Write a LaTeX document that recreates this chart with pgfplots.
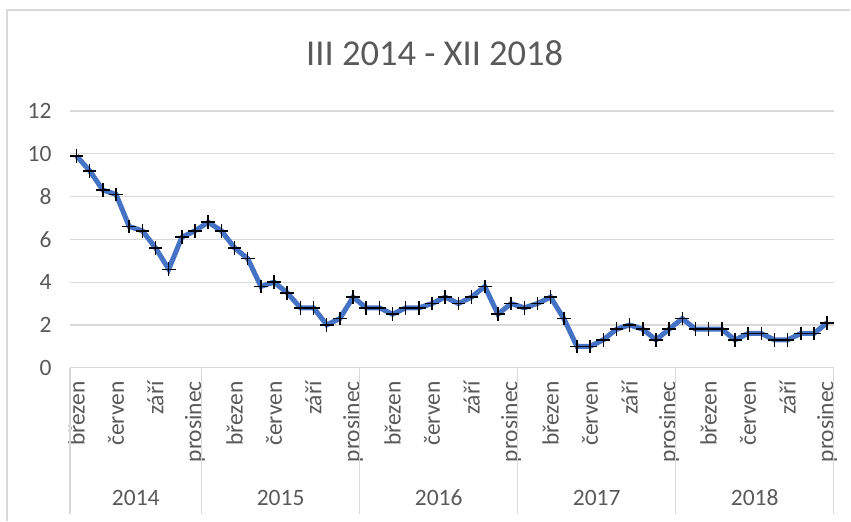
\documentclass[border=0pt]{standalone}
\usepackage{pgfplots}
\pgfplotsset{compat=1.18}
\usepackage{fontspec}
\setmainfont{Carlito}
\definecolor{lineblue}{HTML}{4472C4}
\definecolor{txtgray}{HTML}{595959}
\definecolor{gridgray}{HTML}{D9D9D9}
\pgfplotstableread{
x y
0 9.9
1 9.2
2 8.3
3 8.1
4 6.6
5 6.4
6 5.6
7 4.6
8 6.1
9 6.4
10 6.8
11 6.4
12 5.6
13 5.1
14 3.8
15 4.0
16 3.5
17 2.8
18 2.8
19 2.0
20 2.3
21 3.3
22 2.8
23 2.8
24 2.5
25 2.8
26 2.8
27 3.0
28 3.3
29 3.0
30 3.3
31 3.8
32 2.5
33 3.0
34 2.8
35 3.0
36 3.3
37 2.3
38 1.0
39 1.0
40 1.3
41 1.8
42 2.0
43 1.8
44 1.3
45 1.8
46 2.3
47 1.8
48 1.8
49 1.8
50 1.3
51 1.6
52 1.6
53 1.3
54 1.3
55 1.6
56 1.6
57 2.1
}\datatable
\begin{document}
\begin{tikzpicture}[x=1pt,y=1pt]
\path (0,0) rectangle (851,521);
\draw[gridgray, line width=1.2pt] (7,0) -- (7,511) -- (851,511);
\node[text=txtgray, font=\fontsize{36.5}{40}\selectfont] at (435, 467.5) {III 2014 - XII 2018};
\begin{axis}[
  at={(70pt,153pt)}, anchor=south west,
  scale only axis, width=764.3pt, height=257pt,
  xmin=-0.5, xmax=57.5, ymin=0, ymax=12,
  ytick={0,2,...,12},
  xtick={0,3,...,57},
  xticklabels={březen,červen,září,prosinec,březen,červen,září,prosinec,březen,červen,září,prosinec,březen,červen,září,prosinec,březen,červen,září,prosinec},
  axis line style={draw=none},
  ymajorgrids, grid style={gridgray, line width=1.2pt},
  major tick length=0pt,
  clip=false,
  /pgf/number format/assume math mode=true,
  ticklabel style={font=\fontsize{23.5}{28}\selectfont, text=txtgray},
  yticklabel style={xshift=-15pt},
  xticklabel style={rotate=90, anchor=east, xshift=-10pt},
]
\pgfplotsinvokeforeach{-0.5,9.5,21.5,33.5,45.5,57.5}{
  \draw[gridgray, line width=1.2pt] (axis cs:#1,0) -- ++(0pt,-146pt);
}
\addplot[lineblue, line width=5pt, mark=+, mark size=6.8pt,
  mark options={black, line width=1.5pt, solid}] table[x=x,y=y] {\datatable};
\node[text=txtgray, font=\fontsize{23.5}{28}\selectfont] at (axis cs:4.5,0) [yshift=-130pt] {2014};
\node[text=txtgray, font=\fontsize{23.5}{28}\selectfont] at (axis cs:15.5,0) [yshift=-130pt] {2015};
\node[text=txtgray, font=\fontsize{23.5}{28}\selectfont] at (axis cs:27.5,0) [yshift=-130pt] {2016};
\node[text=txtgray, font=\fontsize{23.5}{28}\selectfont] at (axis cs:39.5,0) [yshift=-130pt] {2017};
\node[text=txtgray, font=\fontsize{23.5}{28}\selectfont] at (axis cs:51.5,0) [yshift=-130pt] {2018};
\end{axis}
\end{tikzpicture}
\end{document}
